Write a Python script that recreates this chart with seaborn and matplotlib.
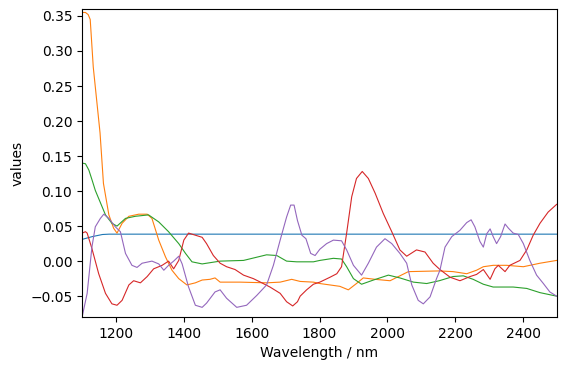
import matplotlib
matplotlib.use('Agg')
import matplotlib.pyplot as plt
import pandas as pd
import seaborn as sns

# Spectra values (wavelength in nm)
wl_blue = [1100, 1130, 1160, 1180, 1250, 1400, 1600, 1800, 2000, 2200, 2400, 2500]
val_blue = [0.031, 0.035, 0.038, 0.0385, 0.0385, 0.0385, 0.0385, 0.0385, 0.0385, 0.0385, 0.0385, 0.0385]

wl_orange = [1100, 1110, 1118, 1124, 1133, 1143, 1153, 1163, 1179, 1193, 1203, 1218, 1238, 1267,
             1292, 1306, 1326, 1346, 1365, 1385, 1409, 1434, 1454, 1477, 1492, 1507, 1566, 1644,
             1684, 1718, 1743, 1782, 1801, 1860, 1885, 1909, 1929, 1964, 2008, 2037, 2062, 2153,
             2194, 2234, 2263, 2283, 2312, 2352, 2401, 2450, 2499]
val_orange = [0.355, 0.355, 0.352, 0.345, 0.277, 0.230, 0.183, 0.111, 0.066, 0.047, 0.040, 0.054,
              0.064, 0.067, 0.067, 0.061, 0.030, 0.006, -0.013, -0.025, -0.034, -0.031, -0.027,
              -0.026, -0.024, -0.030, -0.030, -0.031, -0.030, -0.026, -0.029, -0.030, -0.032,
              -0.036, -0.041, -0.032, -0.024, -0.026, -0.028, -0.021, -0.015, -0.014, -0.015,
              -0.018, -0.013, -0.008, -0.006, -0.006, -0.008, -0.003, 0.001]

wl_green = [1100, 1110, 1120, 1130, 1139, 1169, 1188, 1203, 1228, 1257, 1296, 1326, 1355, 1385,
            1405, 1424, 1454, 1507, 1576, 1644, 1674, 1703, 1733, 1782, 1801, 1841, 1865, 1880,
            1900, 1924, 1959, 2003, 2037, 2077, 2116, 2153, 2194, 2224, 2253, 2283, 2312, 2371,
            2411, 2450, 2499]
val_green = [0.140, 0.139, 0.130, 0.115, 0.101, 0.066, 0.054, 0.050, 0.061, 0.064, 0.066, 0.056,
             0.042, 0.025, 0.011, -0.001, -0.004, 0.000, 0.001, 0.009, 0.008, 0.000, -0.001,
             -0.001, 0.001, 0.004, 0.003, -0.008, -0.025, -0.033, -0.027, -0.020, -0.024,
             -0.030, -0.032, -0.028, -0.022, -0.021, -0.026, -0.033, -0.037, -0.037, -0.039,
             -0.045, -0.050]

wl_red = [1100, 1110, 1115, 1129, 1149, 1169, 1188, 1203, 1218, 1238, 1252, 1272, 1292, 1311,
          1336, 1355, 1370, 1385, 1400, 1414, 1434, 1454, 1467, 1487, 1507, 1526, 1551, 1576,
          1605, 1630, 1654, 1684, 1703, 1721, 1735, 1743, 1762, 1782, 1801, 1831, 1851, 1865,
          1880, 1895, 1909, 1926, 1944, 1964, 1988, 2013, 2037, 2057, 2086, 2111, 2135, 2155,
          2185, 2214, 2244, 2263, 2283, 2303, 2317, 2327, 2347, 2361, 2391, 2411, 2430, 2450,
          2474, 2499]
val_red = [0.040, 0.042, 0.040, 0.018, -0.018, -0.046, -0.061, -0.063, -0.056, -0.034, -0.028,
           -0.031, -0.022, -0.011, -0.006, 0.000, -0.011, 0.001, 0.030, 0.040, 0.037, 0.034,
           0.025, 0.008, -0.003, -0.008, -0.012, -0.020, -0.025, -0.031, -0.037, -0.046,
           -0.058, -0.064, -0.058, -0.050, -0.041, -0.033, -0.030, -0.023, -0.018, -0.008,
           0.040, 0.092, 0.118, 0.128, 0.118, 0.097, 0.068, 0.042, 0.016, 0.007, 0.016, 0.013,
           -0.003, -0.012, -0.023, -0.028, -0.022, -0.019, -0.012, -0.026, -0.011, -0.006,
           -0.015, -0.006, 0.001, 0.016, 0.037, 0.054, 0.070, 0.081]

wl_purple = [1100, 1115, 1129, 1139, 1154, 1164, 1179, 1198, 1213, 1228, 1247, 1262, 1277, 1306,
             1326, 1341, 1355, 1370, 1385, 1395, 1414, 1434, 1454, 1467, 1492, 1507, 1526, 1556,
             1585, 1615, 1644, 1664, 1684, 1703, 1715, 1725, 1735, 1748, 1760, 1774, 1787, 1801,
             1821, 1841, 1865, 1880, 1900, 1924, 1944, 1968, 1993, 2013, 2037, 2057, 2072, 2091,
             2106, 2126, 2145, 2155, 2170, 2190, 2214, 2234, 2247, 2258, 2273, 2283, 2293, 2303,
             2312, 2322, 2334, 2347, 2357, 2371, 2386, 2401, 2420, 2440, 2460, 2479, 2499]
val_purple = [-0.080, -0.046, 0.020, 0.049, 0.061, 0.067, 0.061, 0.049, 0.042, 0.011, -0.006,
              -0.009, -0.003, 0.000, -0.004, -0.013, -0.006, 0.000, 0.007, -0.004, -0.037,
              -0.063, -0.066, -0.060, -0.044, -0.041, -0.053, -0.066, -0.063, -0.049, -0.034,
              -0.006, 0.030, 0.063, 0.080, 0.080, 0.058, 0.037, 0.032, 0.011, 0.008, 0.017,
              0.025, 0.030, 0.029, 0.016, -0.006, -0.020, -0.003, 0.020, 0.032, 0.025, 0.011,
              -0.003, -0.034, -0.056, -0.061, -0.051, -0.025, -0.013, 0.020, 0.035, 0.044,
              0.055, 0.059, 0.049, 0.028, 0.020, 0.039, 0.046, 0.035, 0.025, 0.035, 0.053,
              0.047, 0.040, 0.038, 0.025, 0.001, -0.020, -0.032, -0.044, -0.050]

series = [('1', wl_blue, val_blue), ('2', wl_orange, val_orange), ('3', wl_green, val_green),
          ('4', wl_red, val_red), ('5', wl_purple, val_purple)]

df = pd.concat([pd.DataFrame({'wavelength': w, 'value': v, 'sample': name})
                for name, w, v in series], ignore_index=True)

fig, ax = plt.subplots(figsize=(5.66, 3.74), dpi=100)
sns.lineplot(data=df, x='wavelength', y='value', hue='sample',
             palette=sns.color_palette('tab10', 5), linewidth=0.8,
             legend=False, ax=ax, sort=True, estimator=None)

ax.set_xlim(1100, 2500)
ax.set_ylim(-0.08, 0.36)
ax.set_xlabel('Wavelength / nm')
ax.set_ylabel('values')

fig.subplots_adjust(left=0.145, right=0.984, top=0.976, bottom=0.152)
fig.savefig('out.png', dpi=100)
